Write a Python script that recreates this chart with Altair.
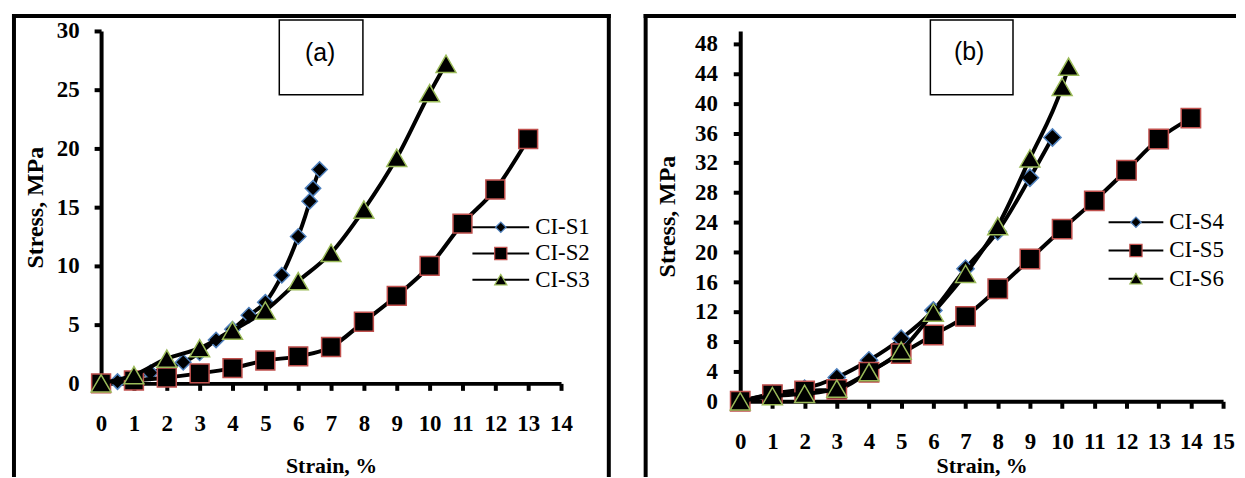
import altair as alt
import pandas as pd

# ---------------- data ----------------
series_a = ["CI-S1", "CI-S2", "CI-S3"]
strain_s1 = [0, 0.5, 1, 1.5, 2, 2.5, 3, 3.5, 4, 4.5, 5, 5.5, 6, 6.35, 6.45, 6.65]
stress_s1 = [0, 0.15, 0.5, 0.9, 1.3, 1.8, 2.6, 3.7, 4.6, 5.8, 6.9, 9.2, 12.5, 15.5, 16.6, 18.2]
strain_s2 = [0, 1, 2, 3, 4, 5, 6, 7, 8, 9, 10, 11, 12, 13]
stress_s2 = [0, 0.25, 0.5, 0.85, 1.3, 1.95, 2.3, 3.1, 5.25, 7.45, 10.0, 13.6, 16.5, 20.8]
strain_s3 = [0, 1, 2, 3, 4, 5, 6, 7, 8, 9, 10, 10.5]
stress_s3 = [0, 0.7, 2.1, 3.0, 4.5, 6.2, 8.7, 11.1, 14.8, 19.2, 24.7, 27.2]

series_b = ["CI-S4", "CI-S5", "CI-S6"]
strain_s4 = [0, 1, 2, 3, 4, 5, 6, 7, 8, 9, 9.7]
stress_s4 = [0, 1.0, 1.7, 3.2, 5.5, 8.4, 12.2, 17.8, 22.8, 30.0, 35.4]
strain_s5 = [0, 1, 2, 3, 4, 5, 6, 7, 8, 9, 10, 11, 12, 13, 14]
stress_s5 = [0, 0.9, 1.4, 1.6, 3.9, 6.4, 8.9, 11.4, 15.1, 19.1, 23.1, 26.9, 31.0, 35.2, 38.0]
strain_s6 = [0, 1, 2, 3, 4, 5, 6, 7, 8, 9, 10, 10.2]
stress_s6 = [0, 0.7, 1.0, 1.7, 3.9, 6.8, 11.9, 17.1, 23.5, 32.6, 42.2, 44.9]

x_ticks_a = list(range(0, 15))
y_ticks_a = [0, 5, 10, 15, 20, 25, 30]
x_ticks_b = list(range(0, 16))
y_ticks_b = list(range(0, 49, 4))

# ---------------- styles ----------------
SHAPES = ["diamond", "square", "triangle-up"]
EDGES = ["#4F81BD", "#C0504D", "#9BBB59"]
SERIF = "Liberation Serif, Times New Roman, DejaVu Serif, serif"
SANS = "Liberation Sans, Arial, sans-serif"
one = alt.Data(values=[{"k": 1}])


def axis_x(ticks, title_pad):
    return alt.Axis(values=ticks, title="Strain, %", grid=False, domainColor="black",
                    domainWidth=4, tickColor="black", tickWidth=4, tickSize=7,
                    labelFont=SERIF, labelFontWeight="bold", labelFontSize=23,
                    labelColor="black", labelPadding=22, labelFlush=False,
                    labelOverlap=False, titleFont=SERIF, titleFontWeight="bold",
                    titleFontSize=22, titleColor="black", titlePadding=title_pad)


def axis_y(ticks, label_pad, title_pad):
    return alt.Axis(values=ticks, title="Stress, MPa", grid=False, domainColor="black",
                    domainWidth=4, tickColor="black", tickWidth=4, tickSize=7,
                    labelFont=SERIF, labelFontWeight="bold", labelFontSize=23,
                    labelColor="black", labelPadding=label_pad, labelOverlap=False,
                    labelFlush=False, titleFont=SERIF, titleFontWeight="bold",
                    titleFontSize=24, titleColor="black", titlePadding=title_pad)


def panel(names, xs, ys, sizes, leg_sizes, xdom, ydom, xticks, yticks, w, h,
          frame, box, tag, tag_xy, leg_range, leg_x, xtp, ylp, ytp, right_rule=True):
    X = alt.X("strain:Q", scale=alt.Scale(domain=xdom, nice=False), axis=axis_x(xticks, xtp))
    Y = alt.Y("stress:Q", scale=alt.Scale(domain=ydom, nice=False), axis=axis_y(yticks, ylp, ytp))
    data_layers = []
    for i, n in enumerate(names):
        df = pd.DataFrame({"strain": xs[i], "stress": ys[i], "series": n})
        base = alt.Chart(df)
        data_layers.append(base.mark_line(color="black", strokeWidth=4, interpolate="monotone")
                           .encode(x=X, y=Y))
        data_layers.append(base.mark_point(filled=True, fill="black", stroke=EDGES[i],
                                           strokeWidth=1.5, opacity=1, fillOpacity=1,
                                           shape=SHAPES[i], size=sizes[i])
                           .encode(x=X, y=Y))
    data_part = alt.layer(*data_layers)

    leg_df = pd.DataFrame({"series": names})
    LY = alt.Y("series:N", scale=alt.Scale(domain=names, range=leg_range, padding=0), axis=None)
    leg_layers = []
    for i, n in enumerate(names):
        b = alt.Chart(leg_df[leg_df.series == n])
        leg_layers.append(b.mark_rule(color="black", strokeWidth=2)
                          .encode(x=alt.value(leg_x[0]), x2=alt.value(leg_x[1]), y=LY))
        leg_layers.append(b.mark_point(filled=True, fill="black", stroke=EDGES[i],
                                       strokeWidth=1.2, opacity=1, shape=SHAPES[i],
                                       size=leg_sizes[i])
                          .encode(x=alt.value((leg_x[0] + leg_x[1]) / 2), y=LY))
        leg_layers.append(b.mark_text(align="left", baseline="middle", font=SERIF,
                                      fontSize=23, color="black")
                          .encode(x=alt.value(leg_x[1] + 6), y=LY, text="series:N"))
    leg_part = alt.layer(*leg_layers)

    fl, ft, fr, fb = frame
    decor = [
        alt.Chart(one).mark_rule(color="black", strokeWidth=4, strokeCap="square")
        .encode(x=alt.value(fl), y=alt.value(ft), y2=alt.value(fb)),
        alt.Chart(one).mark_rule(color="black", strokeWidth=4, strokeCap="square")
        .encode(x=alt.value(fl), x2=alt.value(fr), y=alt.value(ft)),
    ]
    if right_rule:
        decor.append(alt.Chart(one).mark_rule(color="black", strokeWidth=4, strokeCap="square")
                     .encode(x=alt.value(fr), y=alt.value(ft), y2=alt.value(fb)))
    bx0, by0, bx1, by1 = box
    decor.append(alt.Chart(one).mark_rect(filled=False, stroke="black", strokeWidth=1.5)
                 .encode(x=alt.value(bx0), x2=alt.value(bx1), y=alt.value(by0), y2=alt.value(by1)))
    decor.append(alt.Chart(one).mark_text(text=tag, font=SANS, fontSize=25,
                                          color="black", align="center", baseline="middle")
                 .encode(x=alt.value(tag_xy[0]), y=alt.value(tag_xy[1])))

    return (alt.layer(data_part, leg_part, *decor)
            .resolve_scale(y="independent")
            .properties(width=w, height=h))


pa = panel(series_a, [strain_s1, strain_s2, strain_s3], [stress_s1, stress_s2, stress_s3],
           sizes=[240, 360, 400], leg_sizes=[110, 150, 150],
           xdom=[0, 14], ydom=[0, 30], xticks=x_ticks_a, yticks=y_ticks_a, w=462, h=354,
           frame=(-87.5, -15, 510, 446), box=(179, -11, 263, 64), tag="(a)", tag_xy=(220, 22),
           leg_range=[184, 263], leg_x=(373, 430), xtp=21, ylp=15, ytp=9)

pb = panel(series_b, [strain_s4, strain_s5, strain_s6], [stress_s4, stress_s5, stress_s6],
           sizes=[300, 380, 400], leg_sizes=[110, 150, 150],
           xdom=[0, 15], ydom=[0, 49.7], xticks=x_ticks_b, yticks=y_ticks_b, w=485, h=372,
           frame=(-95, -15, 496, 446), box=(191, -11, 274, 64), tag="(b)", tag_xy=(230, 21),
           leg_range=[178, 263], leg_x=(370, 425), xtp=3, ylp=16, ytp=15, right_rule=False)

chart = (alt.hconcat(pa, pb, spacing=31)
         .properties(padding={"left": 2.5, "top": 4, "right": 0, "bottom": 0})
         .configure_view(stroke=None))

chart.save("out.html", embed_options={"renderer": "svg", "actions": False})
